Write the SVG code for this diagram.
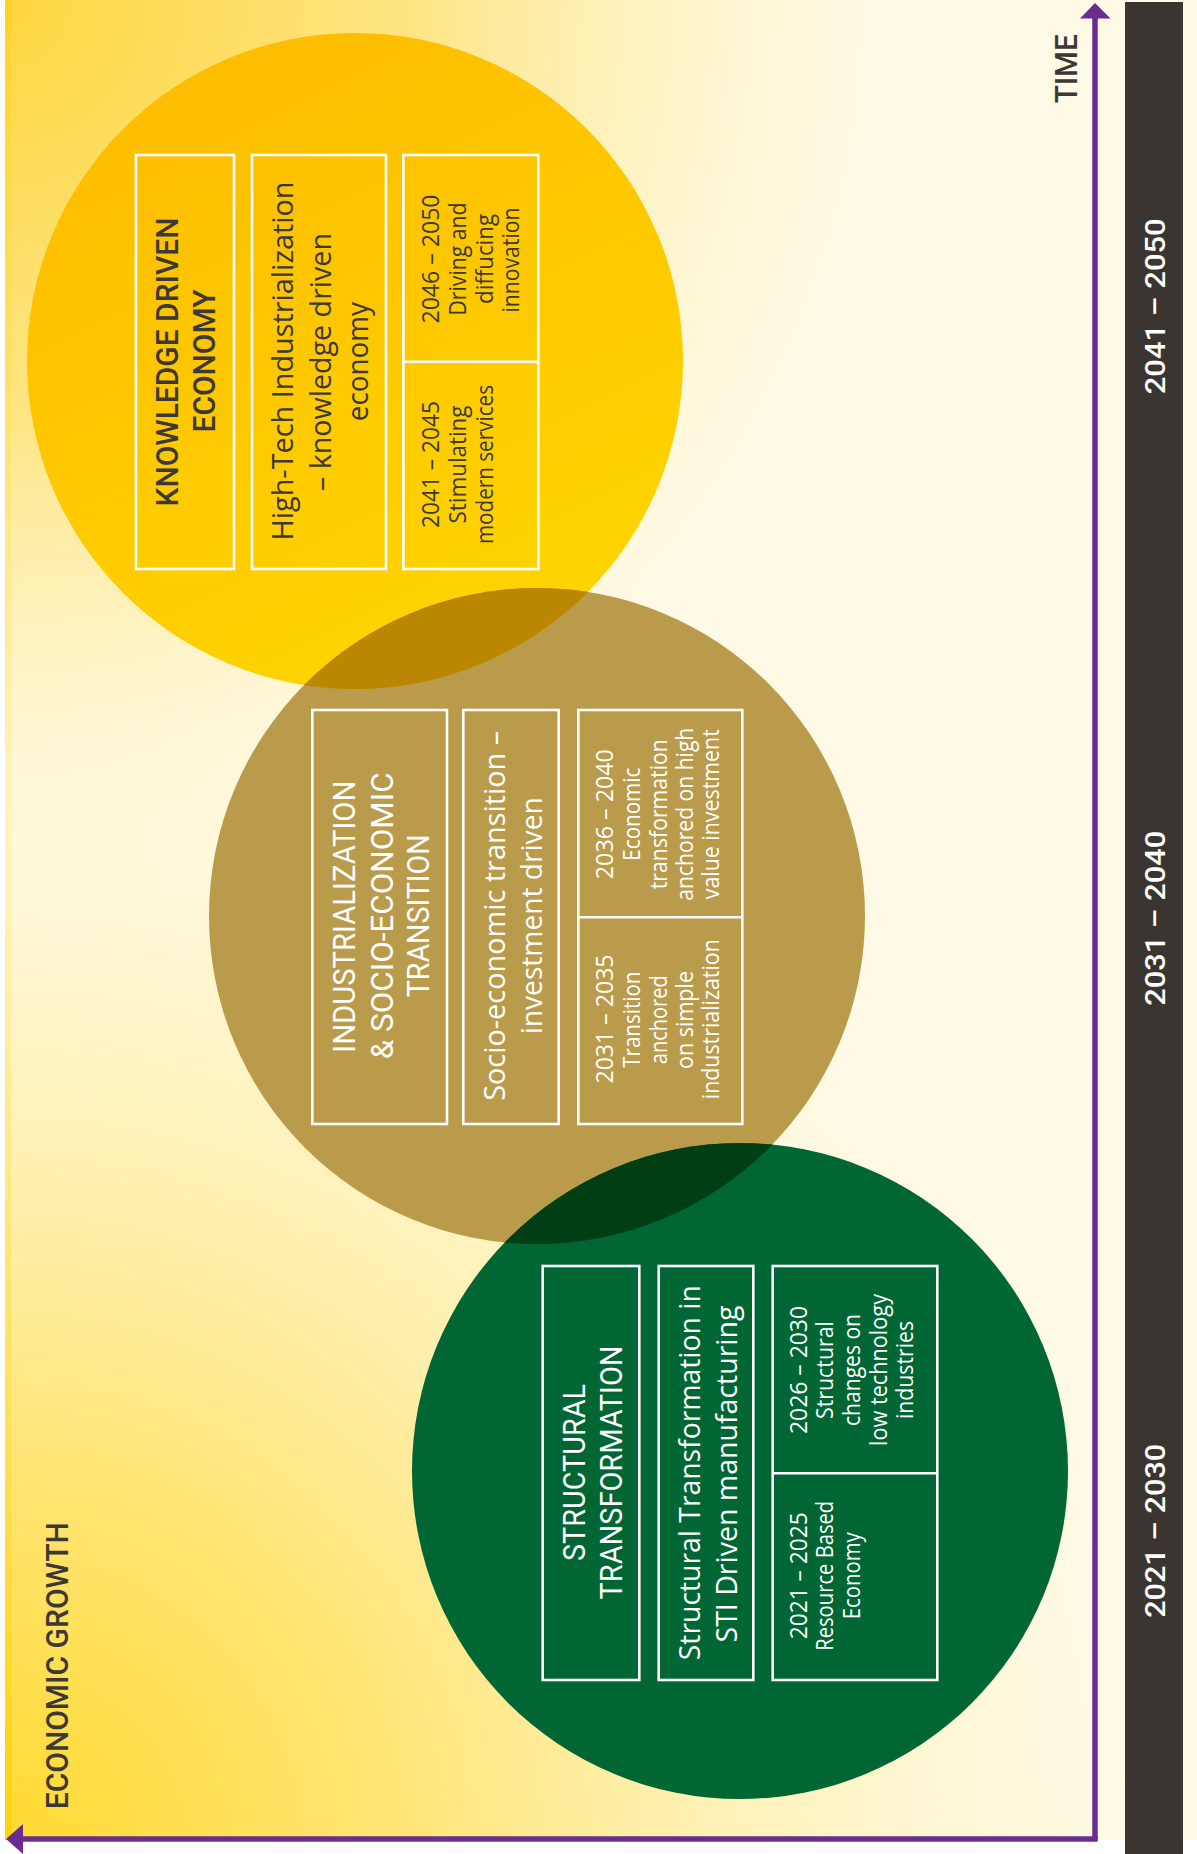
<svg xmlns="http://www.w3.org/2000/svg" width="1197" height="1854" viewBox="0 0 1197 1854">
<defs>
<radialGradient id="gTL" gradientUnits="userSpaceOnUse" cx="0" cy="0" r="900">
<stop offset="0" stop-color="#FDD63E" stop-opacity="1"/>
<stop offset="0.45" stop-color="#FDDD5E" stop-opacity="0.75"/>
<stop offset="1" stop-color="#FFF0B0" stop-opacity="0"/>
</radialGradient>
<radialGradient id="gBL" gradientUnits="userSpaceOnUse" cx="0" cy="1854" r="1150">
<stop offset="0" stop-color="#FFD92E" stop-opacity="1"/>
<stop offset="0.35" stop-color="#FFE05A" stop-opacity="0.8"/>
<stop offset="1" stop-color="#FFF0B0" stop-opacity="0"/>
</radialGradient>
<linearGradient id="gStrip" x1="0" y1="0" x2="0" y2="1">
<stop offset="0" stop-color="#FFD21A"/>
<stop offset="0.45" stop-color="#FFF3B8"/>
<stop offset="1" stop-color="#FFD000"/>
</linearGradient>
<linearGradient id="gYellow" x1="0.2" y1="0" x2="0.7" y2="1">
<stop offset="0" stop-color="#FDBB00"/>
<stop offset="1" stop-color="#FFD600"/>
</linearGradient>
<clipPath id="clipYellow"><circle cx="355" cy="361" r="328"/></clipPath>
<clipPath id="clipTan"><circle cx="537" cy="916" r="328"/></clipPath>
<style>
.box{fill:none;stroke:#ffffff;stroke-width:2.6}
.title{font-family:Roboto,"Liberation Sans",Arial,sans-serif;font-weight:400;font-size:31px;text-anchor:middle}
.title.dark{font-weight:500}
.sub{font-family:"Open Sans","Noto Sans",sans-serif;font-size:30px;text-anchor:middle}
.cell{font-family:"Open Sans","Noto Sans",sans-serif;font-size:23px;text-anchor:middle}
.dark{fill:#3C3835}
.light{fill:#ffffff}
.year{font-family:Roboto,"Liberation Sans",sans-serif;font-weight:500;font-size:28px;fill:#ffffff;text-anchor:middle}
.axislabel{font-family:Roboto,"Liberation Sans",Arial,sans-serif;font-weight:500;font-size:32px;fill:#3C3835;text-anchor:middle}
.axis{stroke:#6A2C90;stroke-width:5.5;fill:none}
</style>
</defs>

<g id="background">
<rect x="5" y="0" width="1192" height="1840" fill="#FFFAE6"/>
<rect x="5" y="0" width="1192" height="1840" fill="url(#gBL)"/>
<rect x="5" y="0" width="1192" height="1840" fill="url(#gTL)"/>
<rect x="5" y="0" width="6" height="1840" fill="url(#gStrip)" opacity="0.8"/>
</g>

<g id="timeline-bar">
<rect x="1125" y="2" width="58" height="1852" fill="#3B3531"/>
<text class="year" transform="translate(1165,306.3) rotate(-90)" textLength="176" lengthAdjust="spacingAndGlyphs">2041 – 2050</text>
<text class="year" transform="translate(1165,918.3) rotate(-90)" textLength="175" lengthAdjust="spacingAndGlyphs">2031 – 2040</text>
<text class="year" transform="translate(1165,1530.8) rotate(-90)" textLength="174" lengthAdjust="spacingAndGlyphs">2021 – 2030</text>
</g>

<g id="circles">
<circle cx="355" cy="361" r="328" fill="url(#gYellow)"/>
<circle cx="537" cy="916" r="328" fill="#BA9B4C"/>
<circle cx="537" cy="916" r="328" fill="#BB8700" clip-path="url(#clipYellow)"/>
<circle cx="740" cy="1471" r="328" fill="#006633"/>
<circle cx="740" cy="1471" r="328" fill="#003F14" clip-path="url(#clipTan)"/>
</g>

<g id="connectors">
<line class="axis" x1="1095" y1="1839" x2="1095" y2="18"/>
<polygon points="1095,3 1080,18.5 1110.5,18.5" fill="#6A2C90"/>
<line class="axis" x1="1097.7" y1="1839" x2="22" y2="1839"/>
<polygon points="6,1839 23,1824 23,1854" fill="#6A2C90"/>
</g>

<g id="axis-labels">
<text class="axislabel" transform="translate(1077.3,68.8) rotate(-90)" textLength="69" lengthAdjust="spacingAndGlyphs">TIME</text>
<text class="axislabel" transform="translate(68.3,1665.8) rotate(-90)" textLength="287" lengthAdjust="spacingAndGlyphs">ECONOMIC GROWTH</text>
</g>

<g id="node-knowledge-title">
<rect class="box" x="136" y="155" width="98" height="414"/>
<text class="title dark" transform="translate(178.3,362) rotate(-90)" textLength="289" lengthAdjust="spacingAndGlyphs">KNOWLEDGE DRIVEN</text>
<text class="title dark" transform="translate(215,361) rotate(-90)" textLength="143" lengthAdjust="spacingAndGlyphs">ECONOMY</text>
</g>
<g id="node-knowledge-desc">
<rect class="box" x="252" y="155" width="134" height="414"/>
<text class="sub dark" transform="translate(293.3,361) rotate(-90)" textLength="359" lengthAdjust="spacingAndGlyphs">High-Tech Industrialization</text>
<text class="sub dark" transform="translate(330.7,362) rotate(-90)" textLength="258" lengthAdjust="spacingAndGlyphs">– knowledge driven</text>
<text class="sub dark" transform="translate(368,361.7) rotate(-90)" textLength="119" lengthAdjust="spacingAndGlyphs">economy</text>
</g>
<g id="node-knowledge-phases">
<rect class="box" x="403.3" y="155" width="135" height="414"/>
<line class="box" x1="403.3" y1="361.7" x2="538.3" y2="361.7"/>
<text class="cell dark" transform="translate(439.3,259) rotate(-90)" textLength="129" lengthAdjust="spacingAndGlyphs">2046 – 2050</text>
<text class="cell dark" transform="translate(466,259) rotate(-90)" textLength="113" lengthAdjust="spacingAndGlyphs">Driving and</text>
<text class="cell dark" transform="translate(492.5,259) rotate(-90)" textLength="90" lengthAdjust="spacingAndGlyphs">diffucing</text>
<text class="cell dark" transform="translate(518.8,260) rotate(-90)" textLength="105" lengthAdjust="spacingAndGlyphs">innovation</text>
<text class="cell dark" transform="translate(439.3,464.5) rotate(-90)" textLength="127" lengthAdjust="spacingAndGlyphs">2041 – 2045</text>
<text class="cell dark" transform="translate(466,464.5) rotate(-90)" textLength="118" lengthAdjust="spacingAndGlyphs">Stimulating</text>
<text class="cell dark" transform="translate(492.5,464.5) rotate(-90)" textLength="159" lengthAdjust="spacingAndGlyphs">modern services</text>
</g>

<g id="node-industrialization-title">
<rect class="box" x="312.3" y="710" width="134.7" height="414"/>
<text class="title light" transform="translate(355,916.7) rotate(-90)" textLength="272" lengthAdjust="spacingAndGlyphs">INDUSTRIALIZATION</text>
<text class="title light" transform="translate(392.7,915.8) rotate(-90)" textLength="287" lengthAdjust="spacingAndGlyphs">&amp; SOCIO-ECONOMIC</text>
<text class="title light" transform="translate(429.3,915.8) rotate(-90)" textLength="163" lengthAdjust="spacingAndGlyphs">TRANSITION</text>
</g>
<g id="node-industrialization-desc">
<rect class="box" x="463.3" y="710" width="95.4" height="414"/>
<text class="sub light" transform="translate(505,915.8) rotate(-90)" textLength="370" lengthAdjust="spacingAndGlyphs">Socio-economic transition –</text>
<text class="sub light" transform="translate(541.7,915.8) rotate(-90)" textLength="237" lengthAdjust="spacingAndGlyphs">investment driven</text>
</g>
<g id="node-industrialization-phases">
<rect class="box" x="578.3" y="710" width="164" height="414"/>
<line class="box" x1="578.3" y1="917.3" x2="742.3" y2="917.3"/>
<text class="cell light" transform="translate(613.3,814.2) rotate(-90)" textLength="130" lengthAdjust="spacingAndGlyphs">2036 – 2040</text>
<text class="cell light" transform="translate(640,814.2) rotate(-90)" textLength="93" lengthAdjust="spacingAndGlyphs">Economic</text>
<text class="cell light" transform="translate(666.5,814.2) rotate(-90)" textLength="150" lengthAdjust="spacingAndGlyphs">transformation</text>
<text class="cell light" transform="translate(692.8,814.2) rotate(-90)" textLength="173" lengthAdjust="spacingAndGlyphs">anchored on high</text>
<text class="cell light" transform="translate(719.3,814.2) rotate(-90)" textLength="170" lengthAdjust="spacingAndGlyphs">value investment</text>
<text class="cell light" transform="translate(613.3,1019) rotate(-90)" textLength="129" lengthAdjust="spacingAndGlyphs">2031 – 2035</text>
<text class="cell light" transform="translate(640,1019.7) rotate(-90)" textLength="96" lengthAdjust="spacingAndGlyphs">Transition</text>
<text class="cell light" transform="translate(666.5,1019.7) rotate(-90)" textLength="89" lengthAdjust="spacingAndGlyphs">anchored</text>
<text class="cell light" transform="translate(692.8,1020) rotate(-90)" textLength="98" lengthAdjust="spacingAndGlyphs">on simple</text>
<text class="cell light" transform="translate(719.3,1019.2) rotate(-90)" textLength="160" lengthAdjust="spacingAndGlyphs">industrialization</text>
</g>

<g id="node-structural-title">
<rect class="box" x="542.7" y="1266" width="96.6" height="414"/>
<text class="title light" transform="translate(585,1472.5) rotate(-90)" textLength="177" lengthAdjust="spacingAndGlyphs">STRUCTURAL</text>
<text class="title light" transform="translate(621.7,1472.5) rotate(-90)" textLength="254" lengthAdjust="spacingAndGlyphs">TRANSFORMATION</text>
</g>
<g id="node-structural-desc">
<rect class="box" x="658.7" y="1266" width="94.6" height="414"/>
<text class="sub light" transform="translate(700,1472.7) rotate(-90)" textLength="375" lengthAdjust="spacingAndGlyphs">Structural Transformation in</text>
<text class="sub light" transform="translate(736.7,1474) rotate(-90)" textLength="337" lengthAdjust="spacingAndGlyphs">STI Driven manufacturing</text>
</g>
<g id="node-structural-phases">
<rect class="box" x="772.7" y="1266" width="164.6" height="414"/>
<line class="box" x1="772.7" y1="1473.3" x2="937.3" y2="1473.3"/>
<text class="cell light" transform="translate(806.7,1370) rotate(-90)" textLength="128" lengthAdjust="spacingAndGlyphs">2026 – 2030</text>
<text class="cell light" transform="translate(833.3,1370) rotate(-90)" textLength="98" lengthAdjust="spacingAndGlyphs">Structural</text>
<text class="cell light" transform="translate(860,1370) rotate(-90)" textLength="112" lengthAdjust="spacingAndGlyphs">changes on</text>
<text class="cell light" transform="translate(886.7,1370) rotate(-90)" textLength="152" lengthAdjust="spacingAndGlyphs">low technology</text>
<text class="cell light" transform="translate(913.3,1370) rotate(-90)" textLength="98" lengthAdjust="spacingAndGlyphs">industries</text>
<text class="cell light" transform="translate(806.7,1575.8) rotate(-90)" textLength="127" lengthAdjust="spacingAndGlyphs">2021 – 2025</text>
<text class="cell light" transform="translate(833.3,1575.8) rotate(-90)" textLength="150" lengthAdjust="spacingAndGlyphs">Resource Based</text>
<text class="cell light" transform="translate(860,1575.8) rotate(-90)" textLength="87" lengthAdjust="spacingAndGlyphs">Economy</text>
</g>
</svg>
